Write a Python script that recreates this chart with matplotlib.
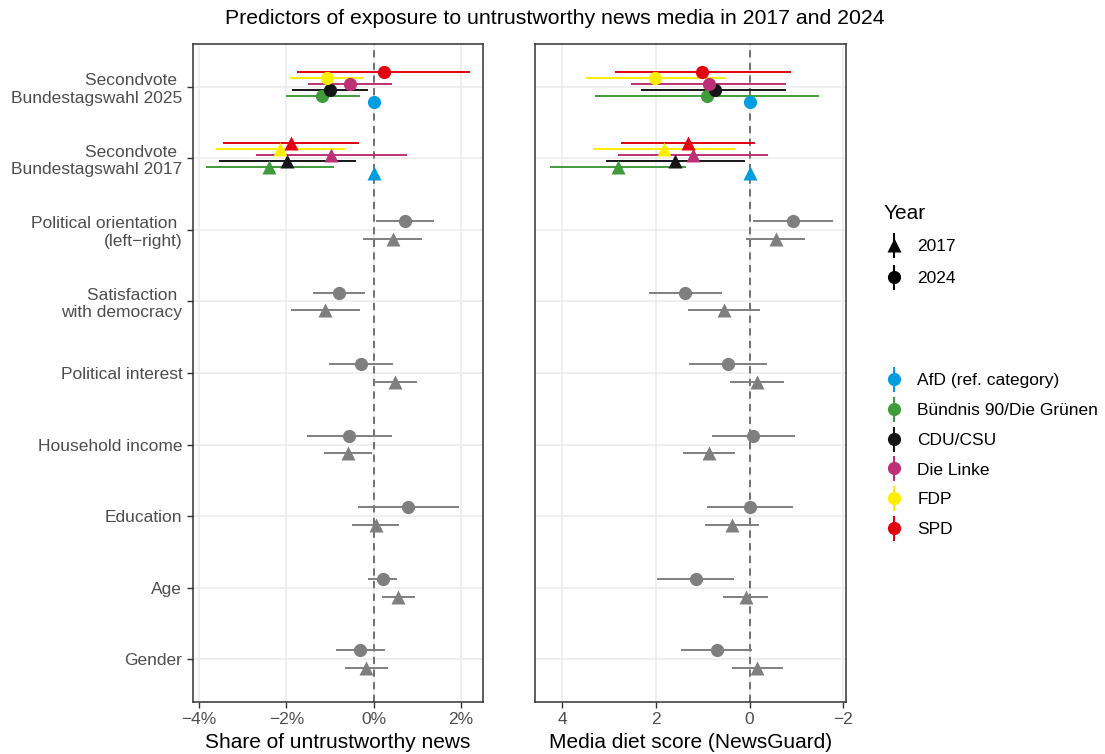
import numpy as np
import matplotlib
matplotlib.use('Agg')
import matplotlib.pyplot as plt
from matplotlib.lines import Line2D
from matplotlib import font_manager

plt.rcParams['font.family'] = ['Liberation Sans', 'DejaVu Sans']

nan = float('nan')

# --- data -----------------------------------------------------------------
controls = ['Gender', 'Age', 'Education', 'Household income', 'Political interest',
            'Satisfaction \nwith democracy', 'Political orientation \n(left\u2212right)']
party_rows = ['Secondvote \nBundestagswahl 2017', 'Secondvote \nBundestagswahl 2025']

parties = ['AfD (ref. category)', 'Bündnis 90/Die Grünen', 'CDU/CSU', 'Die Linke', 'FDP', 'SPD']
party_colors = ['#009EE0', '#3F9B3C', '#151518', '#BE3075', '#FFED00', '#E3000F']

# share of untrustworthy news (%), party coefficients
share_2024_est = [0, -1.18, -1.01, -0.55, -1.08, 0.23]
share_2024_lo = [nan, -2.01, -1.88, -1.51, -1.92, -1.76]
share_2024_hi = [nan, -0.32, -0.14, 0.42, -0.23, 2.21]
share_2017_est = [0, -2.40, -1.98, -0.97, -2.15, -1.89]
share_2017_lo = [nan, -3.85, -3.54, -2.70, -3.62, -3.45]
share_2017_hi = [nan, -0.91, -0.40, 0.77, -0.66, -0.34]

# media diet score (NewsGuard), party coefficients
score_2024_est = [0, 0.91, 0.74, 0.86, 2.01, 1.01]
score_2024_lo = [nan, -1.48, -0.78, -0.77, 0.51, -0.88]
score_2024_hi = [nan, 3.29, 2.32, 2.52, 3.50, 2.88]
score_2017_est = [0, 2.81, 1.59, 1.21, 1.83, 1.32]
score_2017_lo = [nan, 1.35, 0.09, -0.39, 0.32, -0.11]
score_2017_hi = [nan, 4.27, 3.07, 2.80, 3.35, 2.75]

# control variables (same order as `controls`)
share_ctrl_2024_est = [-0.31, 0.20, 0.79, -0.56, -0.30, -0.79, 0.72]
share_ctrl_2024_lo = [-0.86, -0.13, -0.35, -1.52, -1.02, -1.38, 0.05]
share_ctrl_2024_hi = [0.25, 0.53, 1.95, 0.42, 0.43, -0.21, 1.38]
share_ctrl_2017_est = [-0.17, 0.56, 0.05, -0.60, 0.49, -1.12, 0.44]
share_ctrl_2017_lo = [-0.66, 0.18, -0.49, -1.13, 0.00, -1.90, -0.24]
share_ctrl_2017_hi = [0.32, 0.95, 0.57, -0.05, 0.99, -0.31, 1.11]

score_ctrl_2024_est = [0.70, 1.14, 0.00, -0.08, 0.46, 1.37, -0.92]
score_ctrl_2024_lo = [-0.06, 0.33, -0.93, -0.97, -0.38, 0.58, -1.78]
score_ctrl_2024_hi = [1.46, 1.97, 0.91, 0.80, 1.30, 2.15, -0.07]
score_ctrl_2017_est = [-0.16, 0.08, 0.37, 0.87, -0.16, 0.55, -0.56]
score_ctrl_2017_lo = [-0.72, -0.40, -0.21, 0.31, -0.74, -0.22, -1.18]
score_ctrl_2017_hi = [0.38, 0.56, 0.95, 1.43, 0.41, 1.31, 0.07]

# --- plotting ---------------------------------------------------------------
GREY = '#7F7F7F'
ylabels = controls + party_rows
ypos = np.arange(1, len(ylabels) + 1)
party_dodge = np.linspace(-0.21, 0.21, len(parties))  # AfD lowest, SPD highest
ctrl_dodge = 0.125
MS_CIRC = 9.5
MS_TRI = 10
LW = 1.4


def draw_panel(ax, p24, p17, c24, c17):
    # controls
    cy = ypos[:len(controls)]
    est, lo, hi = c24
    ax.hlines(cy + ctrl_dodge, lo, hi, color=GREY, lw=LW, zorder=3)
    ax.plot(est, cy + ctrl_dodge, 'o', color=GREY, ms=MS_CIRC, mec='none', zorder=4)
    est, lo, hi = c17
    ax.hlines(cy - ctrl_dodge, lo, hi, color=GREY, lw=LW, zorder=3)
    ax.plot(est, cy - ctrl_dodge, '^', color=GREY, ms=MS_TRI, mec='none', zorder=4)
    # parties
    y17, y25 = ypos[-2], ypos[-1]
    for i, c in enumerate(party_colors):
        est, lo, hi = p24
        ax.hlines(y25 + party_dodge[i], lo[i], hi[i], color=c, lw=LW, zorder=3)
        ax.plot(est[i], y25 + party_dodge[i], 'o', color=c, ms=MS_CIRC, mec='none', zorder=4)
        est, lo, hi = p17
        ax.hlines(y17 + party_dodge[i], lo[i], hi[i], color=c, lw=LW, zorder=3)
        ax.plot(est[i], y17 + party_dodge[i], '^', color=c, ms=MS_TRI, mec='none', zorder=4)
    ax.axvline(0, color='#666666', lw=1.3, ls=(0, (4, 3)), zorder=2)
    ax.set_ylim(0.4, len(ylabels) + 0.6)
    ax.set_yticks(ypos)
    ax.grid(True, color='#EBEBEB', lw=1.1, zorder=0)
    ax.set_axisbelow(True)
    for s in ax.spines.values():
        s.set_color('#333333')
        s.set_linewidth(1.1)
    ax.tick_params(colors='#333333', labelcolor='#4D4D4D', labelsize=12.5, length=4, width=1)


W, H = 1105, 754
fig = plt.figure(figsize=(W / 100, H / 100), dpi=100)
ax1 = fig.add_axes([192.7 / W, (H - 702) / H, (483 - 192.7) / W, 658 / H])
ax2 = fig.add_axes([535 / W, (H - 702) / H, (846 - 535) / W, 658 / H])

draw_panel(ax1,
           (share_2024_est, share_2024_lo, share_2024_hi),
           (share_2017_est, share_2017_lo, share_2017_hi),
           (share_ctrl_2024_est, share_ctrl_2024_lo, share_ctrl_2024_hi),
           (share_ctrl_2017_est, share_ctrl_2017_lo, share_ctrl_2017_hi))
draw_panel(ax2,
           (score_2024_est, score_2024_lo, score_2024_hi),
           (score_2017_est, score_2017_lo, score_2017_hi),
           (score_ctrl_2024_est, score_ctrl_2024_lo, score_ctrl_2024_hi),
           (score_ctrl_2017_est, score_ctrl_2017_lo, score_ctrl_2017_hi))

ax1.set_xlim(-4.145, 2.5)
ax1.set_xticks([-4, -2, 0, 2])
ax1.set_xticklabels(['\u22124%', '\u22122%', '0%', '2%'])
ax1.set_yticklabels(ylabels, multialignment='right')
ax1.set_xlabel('Share of untrustworthy news', fontsize=15, labelpad=4)

ax2.set_xlim(4.58, -2.06)
ax2.set_xticks([4, 2, 0, -2])
ax2.set_xticklabels(['4', '2', '0', '\u22122'])
ax2.tick_params(axis='y', left=False, labelleft=False)
ax2.set_xlabel('Media diet score (NewsGuard)', fontsize=15, labelpad=4)

# title
title_family = 'Liberation Sans Narrow'
try:
    font_manager.findfont(title_family, fallback_to_default=False)
except Exception:
    title_family = 'Liberation Sans'
fig.text(0.5025, 0.975, 'Predictors of exposure to untrustworthy news media in 2017 and 2024',
         ha='center', va='center', fontsize=15.3, family=title_family)

# legends
year_handles = [
    (Line2D([], [], marker='|', ms=18, mew=1.5, color='black', ls='none'),
     Line2D([], [], marker='^', ms=MS_TRI, color='black', mec='none', ls='none')),
    (Line2D([], [], marker='|', ms=18, mew=1.5, color='black', ls='none'),
     Line2D([], [], marker='o', ms=MS_CIRC, color='black', mec='none', ls='none')),
]
leg1 = fig.legend(year_handles, ['2017', '2024'], title='Year', loc='upper left',
                  bbox_to_anchor=(868 / W, 1 - 188 / H), frameon=False, fontsize=12.5,
                  title_fontsize=15, handlelength=1.2, handletextpad=0.75,
                  labelspacing=0.95, alignment='left')

party_handles = [
    (Line2D([], [], marker='|', ms=18, mew=1.5, color=c, ls='none'),
     Line2D([], [], marker='o', ms=MS_CIRC, color=c, mec='none', ls='none'))
    for c in party_colors
]
leg2 = fig.legend(party_handles, parties, loc='upper left',
                  bbox_to_anchor=(868 / W, 1 - 357 / H), frameon=False, fontsize=12.5,
                  handlelength=1.2, handletextpad=0.75, labelspacing=0.85)

fig.savefig('out.png', dpi=100)
